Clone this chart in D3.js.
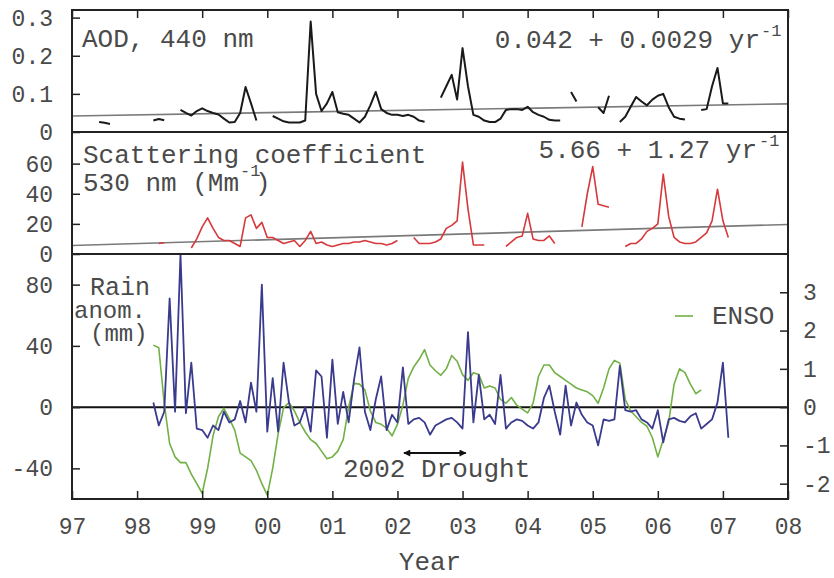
<!DOCTYPE html>
<html>
<head>
<meta charset="utf-8">
<script src="https://cdn.jsdelivr.net/npm/d3@7"></script>
<style>
body{margin:0;background:#fff;}
text{font-family:"Liberation Mono","Courier New",monospace;fill:#4a4a4a;}
</style>
</head>
<body>
<script>
// monthly series, index 0 = Jan 1997, null = gap
var years = d3.range(1997, 2009);

var aodStart = 5;
var aod = [.026,.024,.021, null,null,null,null,null,null,null, .030,.034,.031, null,null,
	.058,.050,.043,.055,.062,.055,.050,.046,.035,.025,.026,.050,.118,.075,.030, null,null,
	.042,.035,.028,.025,.025,.025,.030,.290,.100,.055,.075,.105,.052,.048,.045,.035,.025,.040,.070,.105,.060,.050,.045,.045,.042,.045,.040,.030,.027, null,null,
	.090,.120,.150,.085,.220,.120,.045,.040,.030,.026,.026,.035,.058,.060,.060,.058,.066,.052,.045,.040,.032,.030,.030, null,
	.105,.080, null,null,null, .065,.050,.095, null,
	.026,.040,.066,.092,.080,.070,.085,.095,.100,.065,.040,.035,.033, null,null,
	.058,.060,.120,.168,.075,.075];

var scatStart = 16;
var scat = [7,7.5, null,null,null,null,
	4,10,18,24,17,11,9,9,7,5,24,26,17,21,11,11,9,7,8,9,5,9,15,7,8,6,5,6,7,7,8,8,9,8,7,7,6,7,9, null,null,
	11,7,7,7,8,10,17,19,22,61,30,6,6,6, null,null,null,
	5,8,11,12,27,10,9,9,12,7, null,null,null,null,
	18,40,58,33,32,31, null,null,
	5,7,7,10,15,17,20,53,25,11,8,7,7,8,11,14,22,43,22,11];

var rainStart = 15;
var rain = [3,-12,-3,71,-3,100,-4,29,-14,-15,-20,-12,-15,-3,-10,-8,4,-10,16,-3,
	80,-16,19,-16,29,3,-12,-10,0,-16,24,20,-20,31,-11,10,-10,18,39,-3,
	-15,5,20,-15,-5,-10,26,-11,-8,-7,-10,-18,-12,-10,-8,-7,-10,-14,49,-10,
	21,-8,-5,-11,21,-14,-10,-8,-9,-12,-14,-10,6,14,-3,-18,14,-12,3,-5,
	-10,-12,-25,-8,-9,-8,27,-2,-3,-2,-8,-10,-14,-2,-23,-8,-7,-9,-10,-6,
	-4,-14,-11,-8,3,29,-20];

var ensoStart = 15;
var enso = [1.62,1.55,0.1,-0.95,-1.3,-1.45,-1.45,-1.75,-2.0,-2.25,
	-1.6,-0.75,-0.25,-0.03,-0.3,-0.6,-1.2,-1.3,-1.4,-1.65,
	-2.0,-2.3,-1.6,-0.7,-0.02,0.12,-0.1,-0.4,-0.65,-0.85,
	-0.95,-1.15,-1.35,-1.3,-1.15,-0.85,0,0.62,0.6,0.45,
	-0.1,-0.4,-0.45,-0.55,-0.75,-0.45,0.05,0.75,1.05,1.25,
	1.5,1.1,0.95,0.83,1.0,1.35,1.2,0.85,0.7,0.9,
	0.85,0.5,0.55,0.5,0.2,0.1,0.25,0.05,-0.05,-0.15,
	0.1,0.8,1.1,1.1,0.9,0.8,0.7,0.6,0.5,0.45,
	0.4,0.3,0.1,0.5,1.0,1.22,1.15,0.2,-0.1,-0.25,
	-0.4,-0.5,-0.8,-1.3,-0.85,-0.4,0.6,1.0,0.9,0.6,
	0.35,0.45];

// linear trends: a + b*(year-1997)
var aodTrend = [0.042, 0.0029];
var scatTrend = [5.66, 1.27];

var aodTicks = [0, 0.1, 0.2, 0.3];
var scatTicks = [0, 20, 40, 60];
var rainTicks = [-40, 0, 40, 80];
var ensoTicks = [-2, -1, 0, 1, 2, 3];

var drought = [2002.1, 2003.05];

function toPoints(start, vals){
	return vals.map(function(v, i){ return {t: 1997 + (start + i) / 12, v: v}; });
}

const width = 834, height = 578;
const L = 72, R = 788, T = 10, B = 499;

const x = d3.scaleLinear().domain([1997, 2008]).range([L, R]);
const yAod = d3.scaleLinear().domain([0, 0.32]).range([132, T]);
const ySca = d3.scaleLinear().domain([0, 81]).range([254, 132]);
const yRain = d3.scaleLinear().domain([-60, 100]).range([B, 254]);
const yEnso = d3.scaleLinear().domain([-2.4, 4.0]).range([B, 254]);

const svg = d3.select('body').append('svg')
	.attr('width', width)
	.attr('height', height);

svg.append('defs').append('marker')
	.attr('id', 'arr')
	.attr('viewBox', '0 0 10 10')
	.attr('refX', 9).attr('refY', 5)
	.attr('markerWidth', 9).attr('markerHeight', 7)
	.attr('markerUnits', 'userSpaceOnUse')
	.attr('orient', 'auto-start-reverse')
	.append('path').attr('d', 'M0,0L10,5L0,10z').attr('fill', '#111');

function drawLine(pts, y, color, w){
	svg.append('path')
		.datum(pts)
		.attr('fill', 'none')
		.attr('stroke', color)
		.attr('stroke-width', w)
		.attr('stroke-linejoin', 'round')
		.attr('d', d3.line().defined(function(d){ return d.v != null; })
			.x(function(d){ return x(d.t); })
			.y(function(d){ return y(d.v); }));
}

function trend(coef, y){
	var pts = [1997, 2008].map(function(t){ return {t: t, v: coef[0] + coef[1] * (t - 1997)}; });
	drawLine(pts, y, '#7a7a7a', 1.6);
}

// trend lines first, data on top
trend(aodTrend, yAod);
trend(scatTrend, ySca);

// zero line of rain panel
svg.append('line')
	.attr('x1', L).attr('x2', R)
	.attr('y1', yRain(0)).attr('y2', yRain(0))
	.attr('stroke', '#111').attr('stroke-width', 2);

drawLine(toPoints(aodStart, aod), yAod, '#1a1a1a', 2);
drawLine(toPoints(scatStart, scat), ySca, '#d6383c', 1.6);
drawLine(toPoints(ensoStart, enso), yEnso, '#72b046', 1.6);
drawLine(toPoints(rainStart, rain), yRain, '#3a3a8e', 1.8);

// frame and panel separators
svg.append('rect')
	.attr('x', L).attr('y', T)
	.attr('width', R - L).attr('height', B - T)
	.attr('fill', 'none').attr('stroke', '#222').attr('stroke-width', 2);
[yAod(0), ySca(0)].forEach(function(yy){
	svg.append('line').attr('x1', L).attr('x2', R).attr('y1', yy).attr('y2', yy)
		.attr('stroke', '#222').attr('stroke-width', 2);
});

// axes
function styleAxis(g, size){
	g.select('.domain').remove();
	g.selectAll('.tick line').attr('stroke', '#222').attr('stroke-width', 1.5);
	g.selectAll('.tick text').attr('font-size', size).attr('fill', '#555')
		.attr('font-family', '"Liberation Mono","Courier New",monospace');
}

function numFmt(d){
	if (d === 0) return '0';
	return (Math.abs(d) < 1) ? d.toFixed(1) : String(d);
}

svg.append('g').attr('transform', 'translate(0,' + T + ')')
	.call(d3.axisTop(x).tickValues(years).tickSize(-8).tickFormat(''))
	.call(styleAxis, 23);

svg.append('g').attr('transform', 'translate(0,' + B + ')')
	.call(d3.axisBottom(x).tickValues(years).tickSize(-8).tickPadding(19)
		.tickFormat(function(d){ return String(d % 100).padStart(2, '0'); }))
	.call(styleAxis, 23);

svg.append('g').attr('transform', 'translate(' + L + ',0)')
	.call(d3.axisLeft(yAod).tickValues(aodTicks).tickSize(-8).tickPadding(19).tickFormat(numFmt))
	.call(styleAxis, 23);

svg.append('g').attr('transform', 'translate(' + L + ',0)')
	.call(d3.axisLeft(ySca).tickValues(scatTicks).tickSize(-8).tickPadding(19).tickFormat(numFmt))
	.call(styleAxis, 23);

svg.append('g').attr('transform', 'translate(' + L + ',0)')
	.call(d3.axisLeft(yRain).tickValues(rainTicks).tickSize(-8).tickPadding(19).tickFormat(numFmt))
	.call(styleAxis, 23);

svg.append('g').attr('transform', 'translate(' + R + ',0)')
	.call(d3.axisRight(yEnso).tickValues(ensoTicks).tickSize(-8).tickPadding(15).tickFormat(numFmt))
	.call(styleAxis, 23);

// labels
function label(tx, ty, str, size, anchor){
	return svg.append('text')
		.attr('x', tx).attr('y', ty)
		.attr('font-size', size)
		.attr('text-anchor', anchor || 'start')
		.text(str);
}

label(82, 47, 'AOD, 440 nm', 26);
label(760, 48, '0.042 + 0.0029 yr', 26, 'end');
label(761, 36, '-1', 17);

label(83, 163, 'Scattering coefficient', 26);
label(83, 191, '530 nm (Mm', 26);
label(240, 176, '-1', 17);
label(255, 191, ')', 26);
label(757, 158, '5.66 + 1.27 yr', 26, 'end');
label(759, 146, '-1', 17);

label(90, 295, 'Rain', 25);
label(74, 318, 'anom.', 24);
label(90, 341, '(mm)', 24);

svg.append('line')
	.attr('x1', 675).attr('x2', 693).attr('y1', 316).attr('y2', 316)
	.attr('stroke', '#72b046').attr('stroke-width', 1.6);
label(712, 324, 'ENSO', 26);

svg.append('line')
	.attr('x1', x(drought[0])).attr('x2', x(drought[1]))
	.attr('y1', yRain(-30)).attr('y2', yRain(-30))
	.attr('stroke', '#111').attr('stroke-width', 2)
	.attr('marker-start', 'url(#arr)')
	.attr('marker-end', 'url(#arr)');
label(343, 477, '2002 Drought', 26);

label(430, 570, 'Year', 26, 'middle');
</script>
</body>
</html>
